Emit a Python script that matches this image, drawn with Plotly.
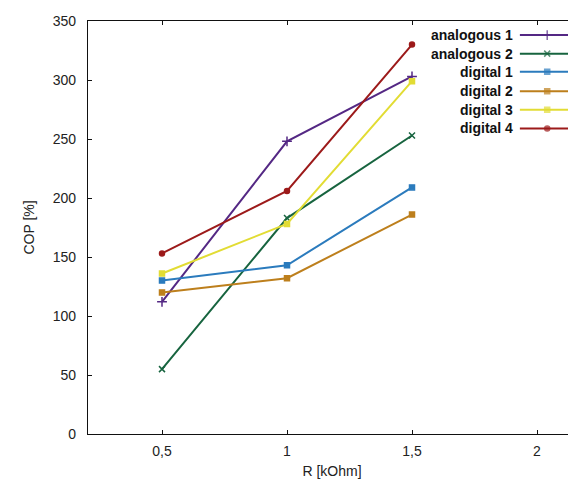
import plotly.graph_objects as go

# ---- data ----
r_kohm = [0.5, 1.0, 1.5]
series_names = ["analogous 1", "analogous 2", "digital 1", "digital 2", "digital 3", "digital 4"]
analogous_1 = [112, 248, 303]
analogous_2 = [55, 183, 253]
digital_1 = [130, 143, 209]
digital_2 = [120, 132, 186]
digital_3 = [136, 178, 299]
digital_4 = [153, 206, 330]
x_ticks = [0.5, 1, 1.5, 2]
x_tick_labels = ["0,5", "1", "1,5", "2"]
y_ticks = [0, 50, 100, 150, 200, 250, 300, 350]

values = [analogous_1, analogous_2, digital_1, digital_2, digital_3, digital_4]
colors = ["#542884", "#17643f", "#2b7bbd", "#bd7f1c", "#e2dc34", "#9c1a1a"]
symbols = ["cross-thin", "x-thin", "square", "square", "square", "circle"]
sizes = [7, 6, 5, 5, 5, 5]

fig = go.Figure()
for name, vals, c, s, sz in zip(series_names, values, colors, symbols, sizes):
    fig.add_trace(go.Scatter(
        x=r_kohm, y=vals, mode="lines+markers", name=name,
        line=dict(color=c, width=2),
        marker=dict(symbol=s, size=sz, color=c, line=dict(color=c, width=1.5)),
        showlegend=False,
    ))

# custom gnuplot-style key (text right-aligned, sample on right)
key_rows = [0.966, 0.921, 0.877, 0.830, 0.785, 0.740]
for name, c, s, sz, ky in zip(series_names, colors, symbols, sizes, key_rows):
    fig.add_trace(go.Scatter(
        x=[0.885, 0.941, 0.984], y=[ky, ky, ky], xaxis="x2", yaxis="y2",
        mode="lines+markers", showlegend=False, hoverinfo="skip",
        line=dict(color=c, width=2),
        marker=dict(symbol=s, size=[0, sz, 0], color=c, line=dict(color=c, width=1.5)),
    ))
    fig.add_annotation(x=0.875, y=ky, xref="paper", yref="paper", text="<b>" + name + "</b>",
                       showarrow=False, xanchor="right", yanchor="middle", align="right",
                       font=dict(family="Liberation Sans", size=14, color="#111"))

fig.update_layout(
    width=568, height=483,
    margin=dict(l=80, r=0, t=13, b=57),
    plot_bgcolor="white", paper_bgcolor="white",
    font=dict(family="Liberation Sans", size=14, color="#222"),
    xaxis=dict(range=[0.204, 2.156], tickvals=x_ticks, ticktext=x_tick_labels,
               showgrid=False, zeroline=False, showline=True, linecolor="#111", linewidth=1.3,
               mirror="allticks", ticks="inside", ticklen=4, tickcolor="#111",
               ticklabelstandoff=4, automargin=False,
               title=dict(text="R [kOhm]", standoff=8, font=dict(size=14))),
    yaxis=dict(range=[0, 350], tickvals=y_ticks,
               showgrid=False, zeroline=False, showline=True, linecolor="#111", linewidth=1.3,
               ticks="inside", ticklen=4, tickcolor="#111",
               ticklabelstandoff=8, automargin=False,
               title=dict(text="COP [%]", standoff=14, font=dict(size=14))),
    xaxis2=dict(range=[0, 1], overlaying="x", visible=False, fixedrange=True),
    yaxis2=dict(range=[0, 1], overlaying="y", visible=False, fixedrange=True),
)

fig.write_html("out.html")
